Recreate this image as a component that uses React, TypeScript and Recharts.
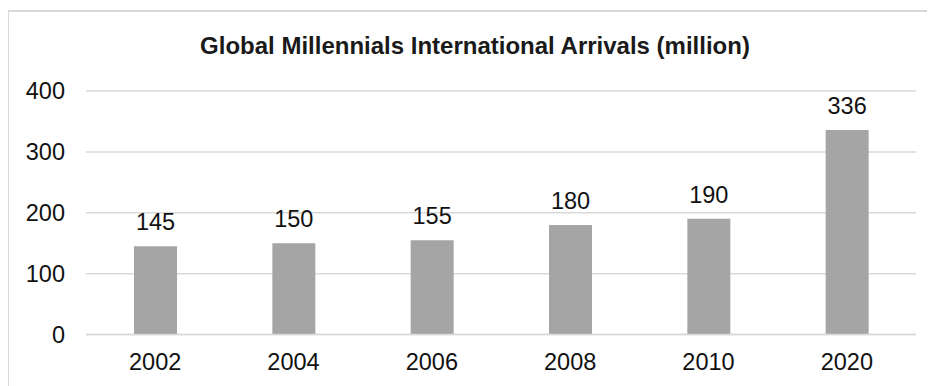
import React from "react";
import { BarChart, Bar, XAxis, YAxis, CartesianGrid, LabelList } from "recharts";

const years = ["2002", "2004", "2006", "2008", "2010", "2020"];
const arrivals = [145, 150, 155, 180, 190, 336];
const yTicks = [0, 100, 200, 300, 400];
const title = "Global Millennials International Arrivals (million)";

const data = years.map((year, i) => ({ year, value: arrivals[i] }));

const FONT = "'Liberation Sans', Arial, sans-serif";

export default function App() {
  return (
    <div style={{ position: "relative", width: 927, height: 378, fontFamily: FONT }}>
      <div
        style={{
          position: "absolute",
          left: -1,
          top: 2,
          width: 940,
          height: 400,
          borderLeft: "2px solid #d9d9d9",
          borderTop: "2px solid #d9d9d9",
          boxSizing: "border-box",
        }}
      />
      <BarChart
        width={927}
        height={378}
        data={data}
        margin={{ top: 83, right: 19, bottom: 0, left: 0 }}
        style={{ position: "absolute", left: 0, top: 0 }}
      >
        <text
          x={467}
          y={46}
          textAnchor="middle"
          fontFamily={FONT}
          fontSize={24}
          fontWeight="bold"
          fill="#1a1a1a"
        >
          {title}
        </text>
        <CartesianGrid vertical={false} stroke="#d9d9d9" strokeWidth={1.5} />
        <XAxis
          dataKey="year"
          height={51.5}
          tickLine={false}
          tickSize={0}
          tickMargin={18.5}
          axisLine={{ stroke: "#d9d9d9", strokeWidth: 1.5 }}
          tick={{ fill: "#111", fontSize: 23.5, fontFamily: FONT }}
          interval={0}
        />
        <YAxis
          width={78}
          domain={[0, 400]}
          ticks={yTicks}
          tickLine={false}
          axisLine={false}
          tickSize={0}
          tickMargin={21}
          tick={{ fill: "#111", fontSize: 23.5, fontFamily: FONT }}
        />
        <Bar dataKey="value" fill="#a5a5a5" barSize={43} isAnimationActive={false}>
          <LabelList
            dataKey="value"
            position="top"
            offset={16}
            fill="#111"
            fontSize={23.5}
            fontFamily={FONT}
          />
        </Bar>
      </BarChart>
    </div>
  );
}
